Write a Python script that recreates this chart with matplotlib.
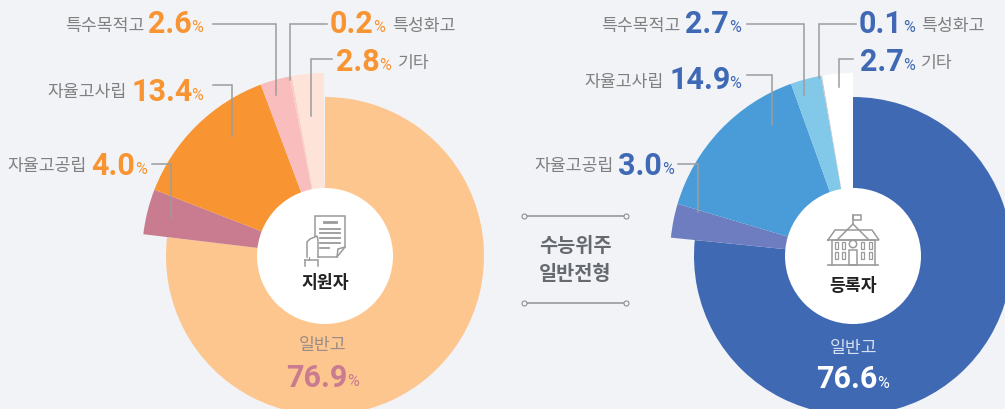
# -*- coding: utf-8 -*-
import matplotlib
matplotlib.use('Agg')
import matplotlib.pyplot as plt
from matplotlib.patches import Wedge, Circle, Rectangle

plt.rcParams['font.family'] = ['Noto Sans CJK KR', 'DejaVu Sans']

categories = ['일반고', '자율고공립', '자율고사립', '특수목적고', '특성화고', '기타']
applicants = [76.9, 4.0, 13.4, 2.6, 0.2, 2.8]
enrolled = [76.6, 3.0, 14.9, 2.7, 0.1, 2.7]
center_names = ['지원자', '등록자']
middle_title = ['수능위주', '일반전형']

colors_left = ['#FDC68F', '#C97B8F', '#F99432', '#F9BDBD', '#FBCDC6', '#FEE3D8']
colors_right = ['#4069B4', '#6E7DBF', '#4A9CD8', '#82C8E8', '#C4C8CC', '#FFFFFF']
ORANGE = '#F99432'
BLUE = '#3F69B5'
GRAY = '#808080'
LINE = '#9C9C9C'
BG = '#F1F3F6'
CY = 256

fig = plt.figure(figsize=(10.05, 4.09), dpi=100, facecolor=BG)
ax = fig.add_axes([0, 0, 1, 1])
ax.set_xlim(0, 1005)
ax.set_ylim(409, 0)
ax.axis('off')


def donut(cx, values, colors):
    start = -90
    for i, v in enumerate(values):
        end = start + v * 3.6
        r = 159 if i == 0 else 183
        ax.add_patch(Wedge((cx, CY), r, start, end, fc=colors[i], ec='none', zorder=1))
        start = end
    ax.add_patch(Circle((cx, CY), 68, fc='white', ec='none', zorder=4))


def leader(xs, ys):
    ax.plot(xs, ys, color=LINE, lw=1.1, zorder=3, solid_joinstyle='miter')


def label(name, value, color, y, name_x=None, num_x=None, pct_x=None, yn=None):
    # num_x: left edge of number, pct_x: left edge of percent sign
    if yn is None:
        yn = y
    ax.text(num_x - 1, yn, f'{value:.1f}', color=color, fontsize=22, fontweight='bold', family='Roboto',
            ha='left', va='center', zorder=6)
    ax.text(pct_x, yn + 4, '%', color=color, fontsize=11.5, family='Roboto',
            ha='left', va='center', zorder=6)
    if name_x is not None:
        ha = 'right' if name_x < num_x else 'left'
        ax.text(name_x, y + 2, name, color=GRAY, fontsize=12.4, ha=ha, va='center', zorder=6)


donut(325, applicants, colors_left)
donut(853, enrolled, colors_right)

# leader lines
leader([213, 276, 276], [24, 24, 95])
leader([327, 290, 290], [24, 24, 80])
leader([332, 311, 311], [59, 59, 116])
leader([213, 232, 232], [85, 85, 136])
leader([152, 171, 171], [164, 164, 218])
leader([747, 804, 804], [24, 24, 95])
leader([856, 819, 819], [24, 24, 78])
leader([853, 839, 839], [59, 59, 87])
leader([747, 772, 772], [75, 75, 125])
leader([678, 698, 698], [164, 164, 212])

# left labels
label(categories[3], applicants[3], ORANGE, 24, 144, 149, 191)
label(categories[4], applicants[4], ORANGE, 24, 392, 331, 373)
label(categories[5], applicants[5], ORANGE, 61, 398, 337, 379, yn=62)
label(categories[2], applicants[2], ORANGE, 90, 127, 132, 191, yn=92)
label(categories[1], applicants[1], ORANGE, 164, 87, 92, 135, yn=166)

# right labels
label(categories[3], enrolled[3], BLUE, 24, 681, 686, 729)
label(categories[4], enrolled[4], BLUE, 24, 921, 860, 903)
label(categories[5], enrolled[5], BLUE, 61, 921, 861, 903, yn=62)
label(categories[2], enrolled[2], BLUE, 80, 664, 670, 729)
label(categories[1], enrolled[1], BLUE, 164, 614, 619, 662, yn=166)

# main slice labels
ax.text(323, 345, categories[0], color='#9A8C86', fontsize=12.4, ha='center', va='center', zorder=6)
label(None, applicants[0], '#C97B8F', 378, None, 287, 347, yn=378)
ax.text(854, 348, categories[0], color='#D5E0F0', fontsize=12.4, ha='center', va='center', zorder=6)
label(None, enrolled[0], 'white', 379, None, 817, 877, yn=379)

# center names
ax.text(325, 283, center_names[0], color='#222222', fontsize=12.4, fontweight='bold',
        ha='center', va='center', zorder=6)
ax.text(853, 286, center_names[1], color='#222222', fontsize=12.4, fontweight='bold',
        ha='center', va='center', zorder=6)

# middle title
ax.text(575, 246, middle_title[0], color='#666A70', fontsize=14.2, fontweight='bold', ha='center', va='center')
ax.text(575, 274, middle_title[1], color='#666A70', fontsize=14.2, fontweight='bold', ha='center', va='center')
for yy in [216, 303]:
    ax.plot([524, 626], [yy, yy], color='#8E9096', lw=1.1, zorder=2)
    ax.plot([524, 626], [yy, yy], ls='none', marker='o', ms=3.6, mfc=BG, mec='#8E9096', mew=0.8, zorder=3)

# document icon
ICON = '#9A9A9A'
def icon_line(xs, ys, lw=1.1, color=ICON):
    ax.plot(xs, ys, color=color, lw=lw, zorder=5, solid_joinstyle='miter')

icon_line([315, 315, 345, 345, 337, 318], [236, 216, 216, 247, 257, 257])
icon_line([345, 338, 337], [247, 249, 257])
icon_line([324, 336], [222, 222], lw=2)
for yy in [229, 233, 238, 243]:
    icon_line([320, 340], [yy, yy], lw=1.3)
icon_line([320, 329], [248, 248], lw=1.3)
icon_line([307, 307, 310, 317, 318, 318], [257, 242, 239, 236, 240, 257])
icon_line([305, 318, 318], [260, 260, 266])
icon_line([305, 305], [260, 266])
icon_line([309, 309], [260, 257], lw=0.8)

# school icon
icon_line([828, 878], [265, 265], lw=1.2)
icon_line([832, 832, 875, 875], [265, 240, 240, 265])
icon_line([828, 835, 872, 879, 828], [240, 230, 230, 240, 240])
icon_line([837, 853, 869], [240, 224, 240])
icon_line([853, 853], [224, 215])
ax.add_patch(Rectangle((853, 215), 8, 5, fc='none', ec=ICON, lw=1.1, zorder=5))
ax.add_patch(Circle((853, 244), 3.7, fc='white', ec=ICON, lw=1.1, zorder=5))
ax.add_patch(Rectangle((849, 250), 8, 15, fc='none', ec=ICON, lw=1.1, zorder=5))
for wx in [835, 842, 861, 869]:
    for wy in [242, 252]:
        ax.add_patch(Rectangle((wx, wy), 3.2, 6.5, fc='none', ec=ICON, lw=0.9, zorder=5))

fig.savefig('out.png', dpi=100, facecolor=BG)
